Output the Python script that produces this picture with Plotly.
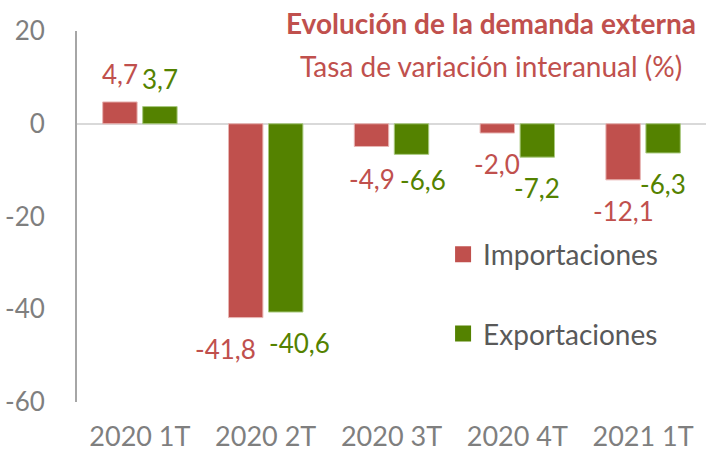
import plotly.graph_objects as go

categories = ["2020 1T", "2020 2T", "2020 3T", "2020 4T", "2021 1T"]
importaciones = [4.7, -41.8, -4.9, -2.0, -12.1]
exportaciones = [3.7, -40.6, -6.6, -7.2, -6.3]
y_ticks = [20, 0, -20, -40, -60]
y_tick_text = ["20", "0", "-20", "-40", "-60"]

RED = "#C0504D"
GREEN = "#548200"
FONT = "Lato"

def fmt(v):
    return f"{v:.1f}".replace(".", ",")

fig = go.Figure()
fig.add_trace(go.Bar(x=categories, y=importaciones, name="Importaciones",
                     marker=dict(color=RED, line=dict(color="#E8B5B3", width=1)),
                     showlegend=False))
fig.add_trace(go.Bar(x=categories, y=exportaciones, name="Exportaciones",
                     marker=dict(color=GREEN, line=dict(color="#A9C97F", width=1)),
                     showlegend=False))
# legend entries with larger square swatches
for name, col, grp in (("Importaciones", RED, "a"), ("Exportaciones", GREEN, "b")):
    fig.add_trace(go.Scatter(x=[None], y=[None], mode="markers", name=name,
                             marker=dict(symbol="square", size=16, color=col),
                             legendgroup=grp, showlegend=True))

# label nudges (styling) per series: extra x shift in px
imp_dx = [0, -20, 0, 0, 0]
exp_dx = [0, 14, 11, 0, 0]
imp_dy = [0, 0, 2, 0, 0]
exp_dy = [0, 0, -5, 0, 0]

annotations = []
for i, c in enumerate(categories):
    for vals, col, base_dx, dxs, dys in ((importaciones, RED, -20, imp_dx, imp_dy),
                                         (exportaciones, GREEN, 20, exp_dx, exp_dy)):
        v = vals[i]
        ys = 28 if v >= 0 else -31
        annotations.append(dict(x=c, y=v, xref="x", yref="y", text=fmt(v),
                                showarrow=False, xshift=base_dx + dxs[i],
                                yshift=ys - dys[i],
                                font=dict(family=FONT, size=26, color=col)))

annotations.append(dict(x=0.658, y=1.022, xref="paper", yref="paper",
                        text="<b>Evolución de la demanda externa</b>", showarrow=False,
                        xanchor="center", yanchor="middle",
                        font=dict(family=FONT, size=28, color=RED)))
annotations.append(dict(x=0.658, y=0.906, xref="paper", yref="paper",
                        text="Tasa de variación interanual (%)", showarrow=False,
                        xanchor="center", yanchor="middle",
                        font=dict(family=FONT, size=28, color=RED)))

fig.update_layout(
    width=706, height=453,
    margin=dict(l=77, r=0, t=31, b=51),
    paper_bgcolor="white", plot_bgcolor="white",
    barmode="group", bargap=0.364, bargroupgap=0.14,
    font=dict(family=FONT),
    showlegend=True,
    legend=dict(x=0.582, y=0.465, xanchor="left", yanchor="top",
                font=dict(family=FONT, size=28, color="#595959"),
                tracegroupgap=40, traceorder="grouped",
                bgcolor="rgba(0,0,0,0)"),
    annotations=annotations,
)
fig.update_xaxes(showgrid=False, showline=False, ticks="", zeroline=False,
                 tickfont=dict(family=FONT, size=27, color="#7F7F7F"),
                 ticklabelstandoff=16)
fig.update_yaxes(range=[-60, 20], tickvals=y_ticks, ticktext=y_tick_text,
                 showgrid=False,
                 showline=True, linecolor="#A6A6A6", linewidth=2,
                 zeroline=True, zerolinecolor="#D9D9D9", zerolinewidth=2,
                 ticks="", tickfont=dict(family=FONT, size=26, color="#7F7F7F"),
                 ticklabelstandoff=25)

fig.write_html("out.html", config={"displayModeBar": False},
               post_script="document.body.style.margin='0';")
